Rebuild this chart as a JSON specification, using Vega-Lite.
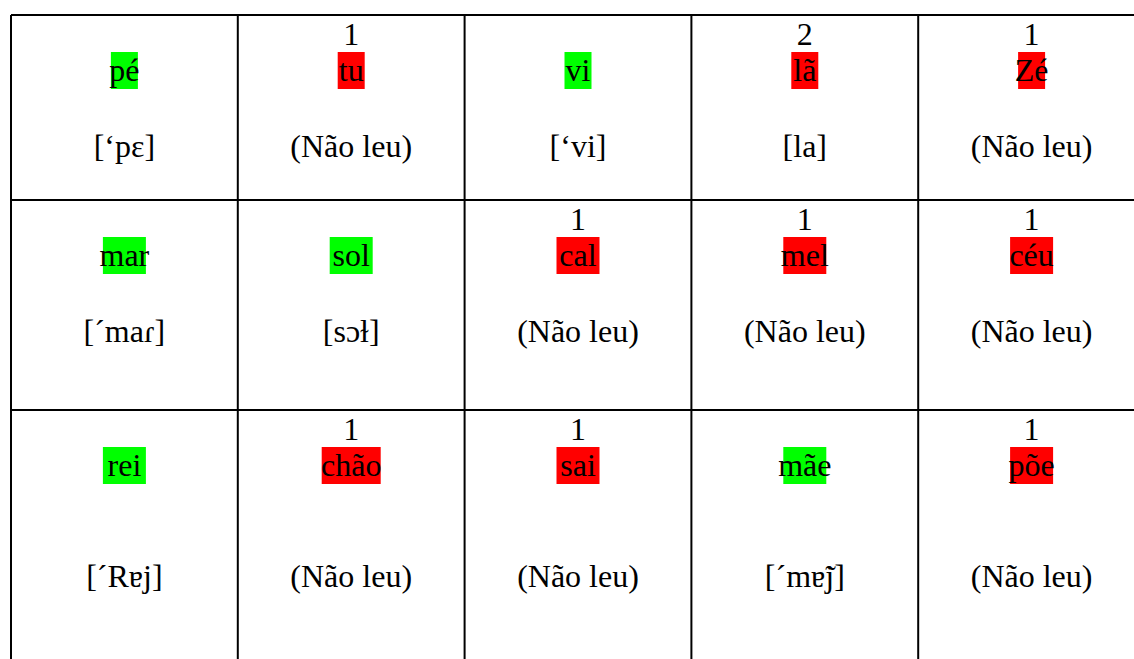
{
  "$schema": "https://vega.github.io/schema/vega-lite/v6.json",
  "width": 1134,
  "height": 659,
  "padding": 0,
  "autosize": {"type": "none"},
  "background": "white",
  "config": {"view": {"stroke": null}},
  "datasets": {
    "cells": [
      {"row": 1, "col": 1, "word": "pé", "letters": 2, "status": "leu", "count": null, "reading": "[‘pɛ]"},
      {"row": 1, "col": 2, "word": "tu", "letters": 2, "status": "não leu", "count": 1, "reading": "(Não leu)"},
      {"row": 1, "col": 3, "word": "vi", "letters": 2, "status": "leu", "count": null, "reading": "[‘vi]"},
      {"row": 1, "col": 4, "word": "lã", "letters": 2, "status": "não leu", "count": 2, "reading": "[la]"},
      {"row": 1, "col": 5, "word": "Zé", "letters": 2, "status": "não leu", "count": 1, "reading": "(Não leu)"},
      {"row": 2, "col": 1, "word": "mar", "letters": 3, "status": "leu", "count": null, "reading": "[´maɾ]"},
      {"row": 2, "col": 2, "word": "sol", "letters": 3, "status": "leu", "count": null, "reading": "[sɔɫ]"},
      {"row": 2, "col": 3, "word": "cal", "letters": 3, "status": "não leu", "count": 1, "reading": "(Não leu)"},
      {"row": 2, "col": 4, "word": "mel", "letters": 3, "status": "não leu", "count": 1, "reading": "(Não leu)"},
      {"row": 2, "col": 5, "word": "céu", "letters": 3, "status": "não leu", "count": 1, "reading": "(Não leu)"},
      {"row": 3, "col": 1, "word": "rei", "letters": 3, "status": "leu", "count": null, "reading": "[´Rɐj]"},
      {"row": 3, "col": 2, "word": "chão", "letters": 4, "status": "não leu", "count": 1, "reading": "(Não leu)"},
      {"row": 3, "col": 3, "word": "sai", "letters": 3, "status": "não leu", "count": 1, "reading": "(Não leu)"},
      {"row": 3, "col": 4, "word": "mãe", "letters": 3, "status": "leu", "count": null, "reading": "[´mɐ̃j]"},
      {"row": 3, "col": 5, "word": "põe", "letters": 3, "status": "não leu", "count": 1, "reading": "(Não leu)"}
    ],
    "colEdges": [{"col": 1}, {"col": 2}, {"col": 3}, {"col": 4}, {"col": 5}, {"col": 6}],
    "rowEdges": [{"row": 1}, {"row": 2}, {"row": 3}, {"row": 4}]
  },
  "resolve": {"scale": {"y": "independent"}},
  "layer": [
    {
      "data": {"name": "cells"},
      "mark": {"type": "tick", "orient": "horizontal", "thickness": 37, "xOffset": 113.4, "yOffset": 55.5, "opacity": 1},
      "encoding": {
        "x": {"field": "col", "type": "quantitative", "scale": {"domain": [1, 6], "range": [11, 1145]}, "axis": null},
        "y": {"field": "row", "type": "quantitative", "scale": {"domain": [1, 2, 3, 4], "range": [15, 200, 410, 720]}, "axis": null},
        "size": {"field": "letters", "type": "quantitative", "scale": {"domain": [2, 4], "range": [27, 59], "zero": false}, "legend": null},
        "color": {"field": "status", "type": "nominal", "scale": {"domain": ["leu", "não leu"], "range": ["#00ff00", "#ff0000"]}, "legend": null}
      }
    },
    {
      "data": {"name": "colEdges"},
      "mark": {"type": "rule", "strokeWidth": 2, "color": "#000000", "clip": true},
      "encoding": {
        "x": {"field": "col", "type": "quantitative", "scale": {"domain": [1, 6], "range": [11, 1145]}, "axis": null},
        "y": {"datum": 1, "type": "quantitative", "scale": {"domain": [1, 2, 3, 4], "range": [15, 200, 410, 720]}, "axis": null},
        "y2": {"datum": 4}
      }
    },
    {
      "data": {"name": "rowEdges"},
      "mark": {"type": "rule", "strokeWidth": 2, "color": "#000000", "clip": true},
      "encoding": {
        "y": {"field": "row", "type": "quantitative", "scale": {"domain": [1, 2, 3, 4], "range": [15, 200, 410, 720]}, "axis": null},
        "x": {"datum": 1, "type": "quantitative", "scale": {"domain": [1, 6], "range": [11, 1145]}, "axis": null},
        "x2": {"datum": 6}
      }
    },
    {
      "data": {"name": "cells"},
      "transform": [{"filter": "datum.count != null"}],
      "mark": {"type": "text", "font": "Liberation Serif", "fontSize": 32, "color": "#000000", "align": "center", "baseline": "alphabetic", "xOffset": 113.4, "yOffset": 30},
      "encoding": {
        "x": {"field": "col", "type": "quantitative", "scale": {"domain": [1, 6], "range": [11, 1145]}, "axis": null},
        "y": {"field": "row", "type": "quantitative", "scale": {"domain": [1, 2, 3, 4], "range": [15, 200, 410, 720]}, "axis": null},
        "text": {"field": "count", "type": "quantitative"}
      }
    },
    {
      "data": {"name": "cells"},
      "mark": {"type": "text", "font": "Liberation Serif", "fontSize": 32, "color": "#000000", "align": "center", "baseline": "alphabetic", "xOffset": 113.4, "yOffset": 66},
      "encoding": {
        "x": {"field": "col", "type": "quantitative", "scale": {"domain": [1, 6], "range": [11, 1145]}, "axis": null},
        "y": {"field": "row", "type": "quantitative", "scale": {"domain": [1, 2, 3, 4], "range": [15, 200, 410, 720]}, "axis": null},
        "text": {"field": "word", "type": "nominal"}
      }
    },
    {
      "data": {"name": "cells"},
      "mark": {"type": "text", "font": "Liberation Serif", "fontSize": 32, "color": "#000000", "align": "center", "baseline": "alphabetic", "xOffset": 113.4},
      "encoding": {
        "x": {"field": "col", "type": "quantitative", "scale": {"domain": [1, 6], "range": [11, 1145]}, "axis": null},
        "y": {"field": "row", "type": "quantitative", "scale": {"domain": [1, 2, 3], "range": [157, 342, 587]}, "axis": null},
        "text": {"field": "reading", "type": "nominal"}
      }
    }
  ]
}
